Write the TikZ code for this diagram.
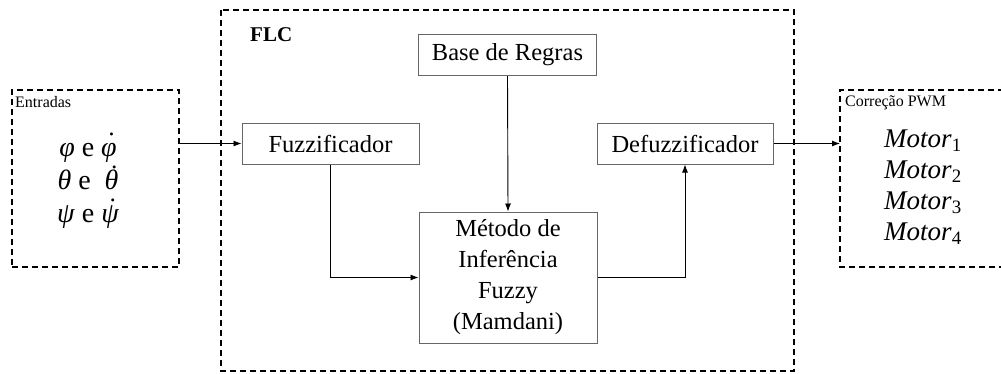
\documentclass[tikz,border=0pt]{standalone}
\usepackage{fontspec}
\setmainfont{Liberation Serif}
\usetikzlibrary{arrows.meta}
\newcommand{\dotab}[1]{\ooalign{#1\cr\hidewidth\kern0.06em\raisebox{0.2em}{\symbol{"2D9}}\hidewidth\cr}}
\begin{document}
\begin{tikzpicture}[x=1pt,y=-1pt,
  blk/.style={draw=black!60, line width=1pt, fill=white, minimum height=41pt, inner sep=0pt,
              font=\fontsize{24.5}{31}\selectfont},
  dashbox/.style={draw, line width=1.6pt, dash pattern=on 6pt off 4pt},
  conn/.style={line width=0.9pt, -{Latex[length=8pt,width=6pt]}},
  small/.style={font=\fontsize{16}{18}\selectfont, inner sep=0pt, anchor=north west}
  ]
\useasboundingbox (0,0) rectangle (1001,373);
% FLC frame
\draw[dashbox] (221,10) rectangle (794,371);
\node[anchor=west, inner sep=0pt, font=\bfseries\fontsize{21}{24}\selectfont] (flc) at (250,35) {FLC};
% inputs
\node[dashbox, minimum width=167pt, minimum height=177pt, inner sep=0pt] (ent) at (95.5,178.5) {};
\node[small] (entl) at (15,96) {Entradas};
\node[align=center, font=\fontsize{28}{33}\selectfont] (angles) at (88,186)
  {\textit{φ} e \textit{\dotab{φ}}\\ \textit{θ} e\ \ \textit{\dotab{θ}}\\ \textit{ψ} e \textit{\dotab{ψ}}};
% outputs
\draw[dashbox] (1004,90) -- (840,90) -- (840,267) -- (1004,267);
\coordinate (outL) at (840,143.5);
\node[small] (pwm) at (845,96) {Correção PWM};
\node[align=center, font=\fontsize{27}{31}\selectfont] (motors) at (923,187)
  {\textit{Motor}\textsubscript{1}\\ \textit{Motor}\textsubscript{2}\\ \textit{Motor}\textsubscript{3}\\ \textit{Motor}\textsubscript{4}};
% blocks
\node[blk, minimum width=178pt] (base) at (507.5,55) {Base de Regras};
\node[blk, minimum width=177pt] (fuzz) at (330.5,143.5) {Fuzzificador};
\node[blk, minimum width=176pt] (defuzz) at (685,143.5) {Defuzzificador};
\node[blk, minimum width=178pt, minimum height=131pt, align=center] (inf) at (508,277.5)
  {Método de\\Inferência\\Fuzzy\\(Mamdani)};
% connectors
\draw[conn] (ent.east |- fuzz.west) -- (fuzz.west);
\draw[conn] (fuzz.south) |- (inf.west);
\draw[conn] (base.south) -- (inf.north);
\draw[conn] (inf.east) -| (defuzz.south);
\draw[conn] (defuzz.east) -- (outL);
\end{tikzpicture}
\end{document}
